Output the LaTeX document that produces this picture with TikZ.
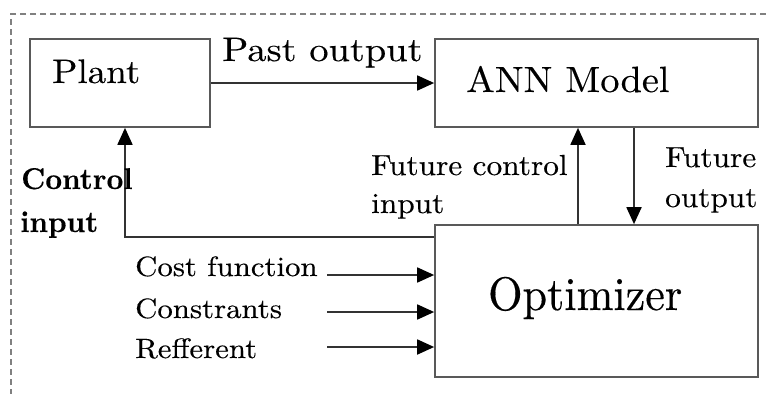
\documentclass[tikz,border=0pt]{standalone}
\usepackage{fontspec}
% 10 pt design of Latin Modern at every size
\setmainfont{lmroman10-regular.otf}[BoldFont=lmroman10-bold.otf,FakeBold=0.3]
\usetikzlibrary{arrows.meta}
% text of a given size, stretched horizontally by a factor
\newcommand{\lbl}[3]{\scalebox{#2}[1]{\fontsize{#1}{#1}\selectfont #3}}
\begin{document}
\begin{tikzpicture}[x=1pt,y=-1pt,
  blockbox/.style={draw=black!65,line width=1.7pt,minimum width=#1,inner sep=0pt},
  txt/.style={anchor=base west,inner sep=0pt},
  arr/.style={draw=black!80,line width=1.8pt,-{Triangle[length=17pt,width=15pt,fill=black,color=black]}}]
\useasboundingbox (0,0) rectangle (766,394);

% dashed frame of the controller
\coordinate (fr) at (11,14);
\draw[black!50,line width=1.5pt,dash pattern=on 6pt off 4pt] (766,14) -- (fr) -- (11,394);

% blocks
\node[blockbox=180pt,minimum height=88pt] (pl) at (120,83) {};
\node[blockbox=323pt,minimum height=88pt] (ann) at (596.5,83) {};
\node[blockbox=323pt,minimum height=152pt] (opt) at (596.5,301) {};

% block texts
\node[txt] (tpl) at (52,83) {\lbl{34}{1.09}{Plant}};
\node[txt] (tann) at (466,92) {\lbl{36.5}{1.05}{ANN Model}};
\node[txt] (topt) at (488,310) {\lbl{47}{0.94}{Optimizer}};

% past output
\draw[arr] (pl.east) -- (ann.west);
\node[txt] (tpast) at (222,61) {\lbl{34}{1.13}{Past output}};

% control input back to the plant
\draw[arr] ([yshift=-13pt]opt.north west) -| ([xshift=5pt]pl.south);
\node[txt] (tci1) at (21,189) {\lbl{30}{0.97}{\bfseries Control}};
\node[txt] (tci2) at (20,232) {\lbl{30}{0.97}{\bfseries input}};

% future control input and future output
\draw[arr] ([xshift=-18.5pt]opt.north) -- ([xshift=-18.5pt]ann.south);
\draw[arr] ([xshift=37.5pt]ann.south) -- ([xshift=37.5pt]opt.north);
\node[txt] (tfc1) at (371,175) {\lbl{29}{1.08}{Future control}};
\node[txt] (tfc2) at (371,213) {\lbl{29}{1.08}{input}};
\node[txt] (tfo1) at (665,167) {\lbl{29}{1.08}{Future}};
\node[txt] (tfo2) at (665,207) {\lbl{29}{1.08}{output}};

% optimizer inputs
\coordinate (cf) at (327,275);
\coordinate (cs) at (327,312);
\coordinate (rf) at (327,347);
\draw[arr] (cf) -- (opt.west |- cf);
\draw[arr] (cs) -- (opt.west |- cs);
\draw[arr] (rf) -- (opt.west |- rf);
\node[txt] (tcf) at (135,276) {\lbl{28}{1.1}{Cost function}};
\node[txt] (tcs) at (135,318) {\lbl{28}{1.1}{Constrants}};
\node[txt] (trf) at (135,358) {\lbl{28}{1.1}{Refferent}};
\end{tikzpicture}
\end{document}
